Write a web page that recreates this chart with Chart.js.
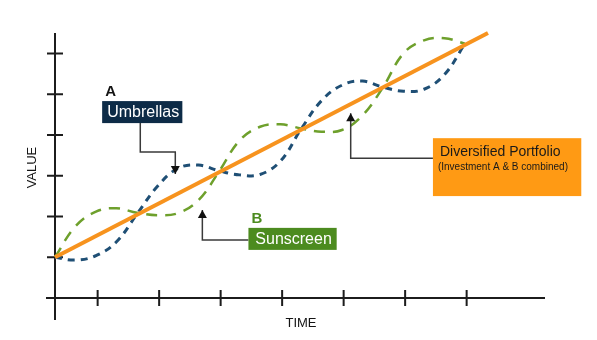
<!DOCTYPE html>
<html>
<head>
<meta charset="utf-8">
<title>Diversified Portfolio</title>
<script src="https://cdn.jsdelivr.net/npm/chart.js@4.4.1/dist/chart.umd.min.js"></script>
<style>
    html, body { margin: 0; padding: 0; background: #fff; }
    #wrap { width: 597px; height: 340px; }
</style>
</head>
<body>
<div id="wrap"><canvas id="chart" width="597" height="340"></canvas></div>
<script>
// Series values (time in periods, value in axis units)
const timeSteps = [0, 0.25, 0.5, 0.75, 1, 1.25, 1.5, 1.75, 2, 2.25, 2.5, 2.75, 3, 3.25, 3.5, 3.75, 4, 4.25, 4.5, 4.75, 5];
const umbrellaValues = [1.00, 0.93, 1.04, 1.38, 2.06, 2.74, 3.18, 3.26, 3.12, 3.02, 3.03, 3.36, 4.14, 4.84, 5.22, 5.32, 5.17, 5.07, 5.12, 5.48, 6.24];
const sunscreenValues = [1.00, 1.76, 2.12, 2.20, 2.09, 2.03, 2.08, 2.40, 3.10, 3.86, 4.20, 4.26, 4.16, 4.08, 4.12, 4.48, 5.17, 6.00, 6.32, 6.37, 6.24];
const portfolioTime = [0, 5.28];
const portfolioValues = [1.0, 6.5];

// Tick marks along the two axes
const valueTicks = [1, 2, 3, 4, 5, 6];
const timeTicks = [0.52, 1.27, 2.02, 2.77, 3.52, 4.27, 5.02];

const FONT = '"Liberation Sans", Arial, Helvetica, sans-serif';

// Callout boxes, placed in chart units: box = [xLeft, yTop, xRight, yBottom]
const callouts = [
    {
        letter: 'A', letterColor: '#141414', label: 'Umbrellas', fill: '#0d2b47', textColor: '#ffffff',
        box: [0.575, 4.83, 1.553, 4.29],
        arrow: [[1.04, 4.29], [1.04, 3.58], [1.467, 3.58], [1.467, 3.04]]
    },
    {
        letter: 'B', letterColor: '#4c8b1f', label: 'Sunscreen', fill: '#4c8b1f', textColor: '#ffffff',
        box: [2.359, 1.72, 3.435, 1.18],
        arrow: [[2.359, 1.42], [1.797, 1.42], [1.797, 2.16]]
    },
    {
        label: 'Diversified Portfolio', note: '(Investment A & B combined)', fill: '#ff9a14', textColor: '#1a1a1a',
        box: [4.609, 3.92, 6.418, 2.5],
        arrow: [[4.609, 3.43], [3.606, 3.43], [3.606, 4.53]]
    }
];

function toPoints(xs, ys) {
    return xs.map((x, i) => ({ x: x, y: ys[i] }));
}

// Axis lines with ticks crossing them, plus the axis titles
const crossAxes = {
    id: 'crossAxes',
    beforeDatasetsDraw(chart) {
        const { ctx, scales: { x, y } } = chart;
        const x0 = x.getPixelForValue(0);
        const y0 = y.getPixelForValue(0);
        ctx.save();
        ctx.strokeStyle = '#1c1c1c';
        ctx.lineWidth = 2;
        ctx.beginPath();
        ctx.moveTo(x0, y.getPixelForValue(y.max));
        ctx.lineTo(x0, y0 + 22);
        ctx.moveTo(x0 - 9, y0);
        ctx.lineTo(x.getPixelForValue(x.max) - 2, y0);
        valueTicks.forEach(v => {
            const py = y.getPixelForValue(v);
            ctx.moveTo(x0 - 8, py);
            ctx.lineTo(x0 + 8, py);
        });
        timeTicks.forEach(t => {
            const px = x.getPixelForValue(t);
            ctx.moveTo(px, y0 - 8);
            ctx.lineTo(px, y0 + 8);
        });
        ctx.stroke();

        ctx.fillStyle = '#141414';
        ctx.font = '13px ' + FONT;
        ctx.textAlign = 'center';
        ctx.textBaseline = 'middle';
        ctx.fillText('TIME', x.getPixelForValue(3), y0 + 25);
        ctx.translate(x0 - 23, y.getPixelForValue(3.2));
        ctx.rotate(-Math.PI / 2);
        ctx.fillText('VALUE', 0, 0);
        ctx.restore();
    }
};

// Labelled boxes with elbow arrows pointing at the lines
const calloutBoxes = {
    id: 'calloutBoxes',
    afterDatasetsDraw(chart) {
        const { ctx, scales: { x, y } } = chart;
        ctx.save();
        callouts.forEach(c => {
            const left = x.getPixelForValue(c.box[0]);
            const top = y.getPixelForValue(c.box[1]);
            const right = x.getPixelForValue(c.box[2]);
            const bottom = y.getPixelForValue(c.box[3]);

            // elbow connector
            const pts = c.arrow.map(p => [x.getPixelForValue(p[0]), y.getPixelForValue(p[1])]);
            ctx.strokeStyle = '#3a3a3a';
            ctx.lineWidth = 1.5;
            ctx.beginPath();
            pts.forEach((p, i) => i ? ctx.lineTo(p[0], p[1]) : ctx.moveTo(p[0], p[1]));
            ctx.stroke();

            // arrow head at the last point
            const tip = pts[pts.length - 1];
            const prev = pts[pts.length - 2];
            const ang = Math.atan2(tip[1] - prev[1], tip[0] - prev[0]);
            ctx.fillStyle = '#111';
            ctx.beginPath();
            ctx.moveTo(tip[0], tip[1]);
            ctx.lineTo(tip[0] - 8 * Math.cos(ang) + 4.5 * Math.sin(ang), tip[1] - 8 * Math.sin(ang) - 4.5 * Math.cos(ang));
            ctx.lineTo(tip[0] - 8 * Math.cos(ang) - 4.5 * Math.sin(ang), tip[1] - 8 * Math.sin(ang) + 4.5 * Math.cos(ang));
            ctx.closePath();
            ctx.fill();

            ctx.fillStyle = c.fill;
            ctx.fillRect(left, top, right - left, bottom - top);

            if (c.letter) {
                ctx.fillStyle = c.letterColor;
                ctx.font = 'bold 15px ' + FONT;
                ctx.textAlign = 'left';
                ctx.textBaseline = 'alphabetic';
                ctx.fillText(c.letter, left + 3, top - 5);
            }

            ctx.fillStyle = c.textColor;
            if (c.note) {
                ctx.textAlign = 'left';
                ctx.textBaseline = 'alphabetic';
                ctx.font = '14px ' + FONT;
                ctx.fillText(c.label, left + 7, top + 18);
                ctx.font = '10px ' + FONT;
                ctx.fillText(c.note, left + 5, top + 32);
            } else {
                ctx.font = '16px ' + FONT;
                ctx.textAlign = 'center';
                ctx.textBaseline = 'middle';
                ctx.fillText(c.label, (left + right) / 2 + 1, (top + bottom) / 2 + 1);
            }
        });
        ctx.restore();
    }
};

const ctx = document.getElementById('chart').getContext('2d');
new Chart(ctx, {
    type: 'line',
    data: {
        datasets: [
            {
                label: 'Diversified Portfolio',
                data: toPoints(portfolioTime, portfolioValues),
                borderColor: '#f7931e',
                borderWidth: 4,
                pointRadius: 0,
                clip: false
            },
            {
                label: 'Umbrellas',
                data: toPoints(timeSteps, umbrellaValues),
                borderColor: '#1f4f75',
                borderWidth: 3,
                borderDash: [7, 6],
                pointRadius: 0,
                tension: 0.4,
                clip: false
            },
            {
                label: 'Sunscreen',
                data: toPoints(timeSteps, sunscreenValues),
                borderColor: '#6ea02c',
                borderWidth: 2.5,
                borderDash: [11, 8],
                pointRadius: 0,
                tension: 0.4,
                clip: false
            }
        ]
    },
    options: {
        responsive: false,
        animation: false,
        devicePixelRatio: 1,
        layout: { padding: { left: 55, right: 50, top: 33, bottom: 42 } },
        plugins: { legend: { display: false }, tooltip: { enabled: false } },
        scales: {
            x: { type: 'linear', min: 0, max: 6, display: false },
            y: { type: 'linear', min: 0, max: 6.5, display: false }
        }
    },
    plugins: [crossAxes, calloutBoxes]
});
</script>
</body>
</html>
